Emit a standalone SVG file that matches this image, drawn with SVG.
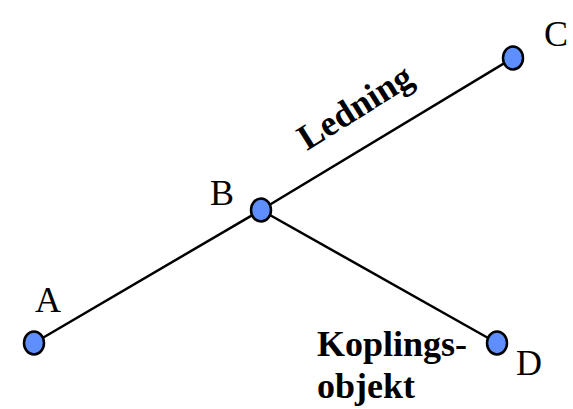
<svg xmlns="http://www.w3.org/2000/svg" width="573" height="409" viewBox="0 0 573 409">
<style>
.n{fill:#5F8FFF;stroke:#000;stroke-width:2.5}
.e{stroke:#000;stroke-width:2.5;fill:none}
.t{font-family:"Liberation Serif",serif;font-size:36px;fill:#000}
.b{font-family:"Liberation Serif",serif;font-size:36px;font-weight:bold;fill:#000}
</style>
<rect width="573" height="409" fill="#fff"/>
<g id="connectors">
<line class="e" x1="34" y1="343" x2="261" y2="210"/>
<line class="e" x1="261" y1="210" x2="513" y2="58"/>
<line class="e" x1="261" y1="210" x2="497" y2="343"/>
<text class="b" transform="translate(307,151) rotate(-32)">Ledning</text>
</g>
<g id="A"><ellipse class="n" cx="34" cy="343" rx="10" ry="11.5"/><text class="t" x="35" y="312">A</text></g>
<g id="B"><ellipse class="n" cx="261" cy="210" rx="10" ry="11.5"/><text class="t" x="210" y="205">B</text></g>
<g id="C"><ellipse class="n" cx="513" cy="58" rx="10" ry="11.5"/><text class="t" x="544" y="46">C</text></g>
<g id="D"><ellipse class="n" cx="497" cy="343" rx="10" ry="11.5"/><text class="t" x="516" y="375">D</text>
<text class="b" x="317" y="356">Koplings-</text><text class="b" x="317" y="398">objekt</text></g>
</svg>
